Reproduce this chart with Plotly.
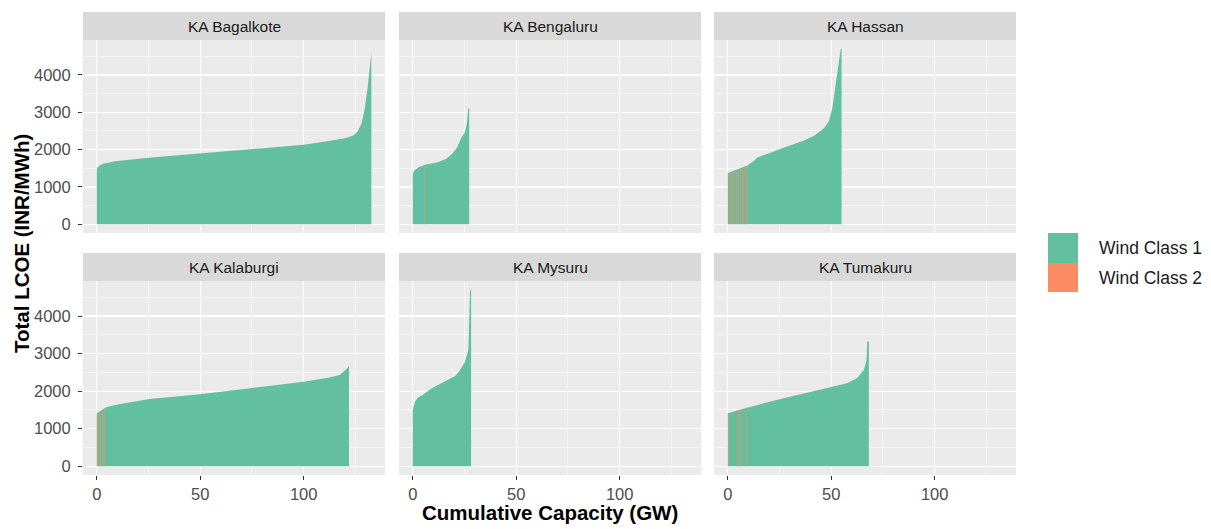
import plotly.graph_objects as go

W, H = 1211, 529

# ---------------- data ----------------
districts = ["KA Bagalkote", "KA Bengaluru", "KA Hassan",
             "KA Kalaburgi", "KA Mysuru", "KA Tumakuru"]

# Wind Class 1 supply curves: cumulative capacity (GW) and total LCOE (INR/MWh)
bagalkote_cap = [0, 1, 3, 9, 25, 50, 75, 100, 112, 120, 124, 126, 128, 129.5, 131, 132, 132.7]
bagalkote_lcoe = [1480, 1560, 1620, 1690, 1780, 1900, 2020, 2130, 2230, 2300, 2380, 2480, 2700, 3100, 3700, 4200, 4600]

bengaluru_cap = [0, 1, 3, 6, 12, 16, 19, 21.5, 23.5, 25.2, 26.2, 26.8, 27.3]
bengaluru_lcoe = [1350, 1450, 1530, 1590, 1660, 1750, 1880, 2060, 2320, 2460, 2700, 3100, 3100]

hassan_cap = [0, 3, 6, 9.5, 12.7, 14.3, 20, 25.6, 36.9, 41.8, 46.6, 49, 50.6, 52.2, 53.8, 54.6, 55]
hassan_lcoe = [1370, 1430, 1500, 1570, 1700, 1790, 1900, 2020, 2240, 2370, 2580, 2770, 3130, 3750, 4450, 4700, 4700]

kalaburgi_cap = [0, 2, 4.5, 9.3, 25.5, 50, 75, 100, 112.5, 117.4, 120.6, 121.7, 121.9]
kalaburgi_lcoe = [1410, 1480, 1570, 1640, 1790, 1920, 2080, 2250, 2360, 2430, 2580, 2670, 2670]

mysuru_cap = [0, 0.5, 1.1, 2.5, 4.8, 9.2, 15.6, 20.5, 22.9, 25.3, 26.9, 27.3, 27.7, 28.2]
mysuru_lcoe = [1500, 1600, 1720, 1830, 1900, 2080, 2250, 2400, 2560, 2790, 3100, 3900, 4700, 4700]

tumakuru_cap = [0, 5.3, 9.3, 25.5, 41.6, 50, 57.7, 62.6, 65.8, 67.1, 67.4, 68.2]
tumakuru_lcoe = [1410, 1500, 1560, 1790, 1990, 2110, 2210, 2350, 2570, 2830, 3320, 3320]

# Wind Class 2 sites: start capacity, end capacity (GW), LCOE (INR/MWh)
bengaluru_c2_start = [5.5]
bengaluru_c2_end = [6.1]
bengaluru_c2_lcoe = [1575]

hassan_c2_start = [0.3, 1.5, 2.6, 3.7, 4.9, 5.9, 6.9, 8.0, 9.1]
hassan_c2_end = [1.2, 2.3, 3.4, 4.6, 5.6, 6.6, 7.7, 8.8, 9.9]
hassan_c2_lcoe = [1375, 1395, 1420, 1445, 1470, 1490, 1510, 1535, 1560]

kalaburgi_c2_start = [0, 1.3, 2.5, 3.6]
kalaburgi_c2_end = [1.0, 2.2, 3.3, 4.3]
kalaburgi_c2_lcoe = [1415, 1450, 1480, 1520]

tumakuru_c2_start = [0.2, 4.4, 5.6, 8.6]
tumakuru_c2_end = [0.9, 5.2, 6.5, 9.4]
tumakuru_c2_lcoe = [1415, 1500, 1515, 1555]

class1 = {
    "KA Bagalkote": (bagalkote_cap, bagalkote_lcoe),
    "KA Bengaluru": (bengaluru_cap, bengaluru_lcoe),
    "KA Hassan": (hassan_cap, hassan_lcoe),
    "KA Kalaburgi": (kalaburgi_cap, kalaburgi_lcoe),
    "KA Mysuru": (mysuru_cap, mysuru_lcoe),
    "KA Tumakuru": (tumakuru_cap, tumakuru_lcoe),
}
class2 = {
    "KA Bengaluru": (bengaluru_c2_start, bengaluru_c2_end, bengaluru_c2_lcoe),
    "KA Hassan": (hassan_c2_start, hassan_c2_end, hassan_c2_lcoe),
    "KA Kalaburgi": (kalaburgi_c2_start, kalaburgi_c2_end, kalaburgi_c2_lcoe),
    "KA Tumakuru": (tumakuru_c2_start, tumakuru_c2_end, tumakuru_c2_lcoe),
}

x_ticks = [0, 50, 100]
y_ticks = [0, 1000, 2000, 3000, 4000]

# ---------------- style / layout ----------------
GREEN = "rgb(98,191,159)"
ORANGE_T = "rgba(252,141,98,0.42)"
ORANGE = "rgb(252,141,98)"
PANEL_BG = "#EBEBEB"
STRIP_BG = "#D9D9D9"
FONT = "Liberation Sans, Arial, sans-serif"

# pixel boxes measured in the 1211x529 picture
col_px = [(83, 385), (399, 701), (714, 1016)]
row_px = [(40, 233), (281, 475)]
strip_px = [(12, 40), (253, 281)]

X_RANGE = [-6.64, 139.3]
Y_RANGE = [-235, 4935]


def px_x(p):
    return p / W


def px_y(p):
    return 1 - p / H


fig = go.Figure()
layout = dict(
    width=W, height=H,
    margin=dict(l=0, r=0, t=0, b=0),
    paper_bgcolor="white", plot_bgcolor=PANEL_BG,
    showlegend=False,
    font=dict(family=FONT, color="#4D4D4D", size=16),
)
shapes, annotations = [], []

for i, name in enumerate(districts):
    r, c = divmod(i, 3)
    idx = "" if i == 0 else str(i + 1)
    xa, ya = "x" + idx, "y" + idx
    x0, x1 = col_px[c]
    y0, y1 = row_px[r]
    layout["xaxis" + idx] = dict(
        domain=[px_x(x0), px_x(x1)], anchor=ya, range=X_RANGE,
        tickvals=x_ticks, showticklabels=(r == 1),
        ticks="outside" if r == 1 else "", ticklen=4, tickcolor="#333333", tickwidth=1,
        tickfont=dict(size=16.5, color="#4D4D4D"), ticklabelstandoff=0,
        showgrid=True, gridcolor="white", gridwidth=1.2, zeroline=False, showline=False,
        minor=dict(dtick=25, tick0=0, showgrid=True, gridcolor="white", gridwidth=0.5),
        fixedrange=True,
    )
    layout["yaxis" + idx] = dict(
        domain=[px_y(y1), px_y(y0)], anchor=xa, range=Y_RANGE,
        tickvals=y_ticks, showticklabels=(c == 0),
        ticks="outside" if c == 0 else "", ticklen=4, tickcolor="#333333", tickwidth=1,
        tickfont=dict(size=16.5, color="#4D4D4D"), ticklabelstandoff=4,
        showgrid=True, gridcolor="white", gridwidth=1.2, zeroline=False, showline=False,
        minor=dict(dtick=500, tick0=0, showgrid=True, gridcolor="white", gridwidth=0.5),
        fixedrange=True,
    )
    cap, lcoe = class1[name]
    fig.add_trace(go.Scatter(
        x=cap, y=lcoe, xaxis=xa, yaxis=ya, mode="lines", fill="tozeroy",
        fillcolor=GREEN, line=dict(width=0, color=GREEN), name="Wind Class 1",
        hoverinfo="skip",
    ))
    if name in class2:
        s, e, v = class2[name]
        px_list, py_list = [], []
        for a, b, h in zip(s, e, v):
            px_list += [a, a, b, b, a, None]
            py_list += [0, h, h, 0, 0, None]
        fig.add_trace(go.Scatter(
            x=px_list, y=py_list, xaxis=xa, yaxis=ya, mode="lines", fill="toself",
            fillcolor=ORANGE_T, line=dict(width=0, color=ORANGE_T),
            name="Wind Class 2", hoverinfo="skip",
        ))
    # strip
    sy0, sy1 = strip_px[r]
    shapes.append(dict(type="rect", xref="paper", yref="paper",
                       x0=px_x(x0), x1=px_x(x1), y0=px_y(sy1), y1=px_y(sy0),
                       fillcolor=STRIP_BG, line=dict(width=0), layer="below"))
    annotations.append(dict(text=name, xref="paper", yref="paper",
                            x=px_x((x0 + x1) / 2), y=px_y((sy0 + sy1) / 2),
                            showarrow=False, xanchor="center", yanchor="middle",
                            font=dict(size=15.5, color="#1A1A1A", family=FONT)))

# axis titles
annotations.append(dict(text="<b>Total LCOE (INR/MWh)</b>", xref="paper", yref="paper",
                        x=px_x(22), y=px_y(244), textangle=-90, showarrow=False,
                        xanchor="center", yanchor="middle",
                        font=dict(size=20.5, color="black", family=FONT)))
annotations.append(dict(text="<b>Cumulative Capacity (GW)</b>", xref="paper", yref="paper",
                        x=px_x(549.5), y=px_y(512), showarrow=False,
                        xanchor="center", yanchor="middle",
                        font=dict(size=20.5, color="black", family=FONT)))

# legend
legend_items = [("Wind Class 1", GREEN, 233, 263),
                ("Wind Class 2", ORANGE, 263, 292)]
for label, col, ky0, ky1 in legend_items:
    shapes.append(dict(type="rect", xref="paper", yref="paper",
                       x0=px_x(1048), x1=px_x(1078), y0=px_y(ky1), y1=px_y(ky0),
                       fillcolor=col, line=dict(width=0)))
    annotations.append(dict(text=label, xref="paper", yref="paper",
                            x=px_x(1097), y=px_y((ky0 + ky1) / 2), showarrow=False,
                            xanchor="left", yanchor="middle",
                            font=dict(size=17.5, color="#1A1A1A", family=FONT)))

layout["shapes"] = shapes
layout["annotations"] = annotations
fig.update_layout(**layout)
# remove the default 8px page margin so the 1211x529 figure fills the window exactly
fig.write_html("out.html",
               config={"displayModeBar": False, "staticPlot": True},
               post_script="document.body.style.margin='0px';document.body.style.overflow='hidden';")
